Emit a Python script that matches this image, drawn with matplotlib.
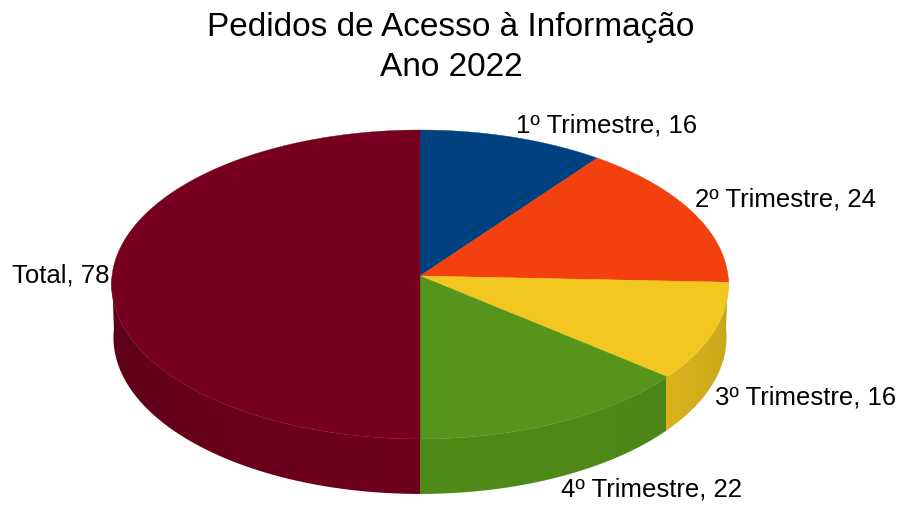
import numpy as np
import matplotlib
matplotlib.use("Agg")
import matplotlib.pyplot as plt
from matplotlib.colors import to_rgb
from matplotlib.patches import Polygon

plt.rcParams['font.family'] = ['Liberation Sans', 'DejaVu Sans']

# data
labels = ['1º Trimestre', '2º Trimestre', '3º Trimestre', '4º Trimestre', 'Total']
values = [16, 24, 16, 22, 78]
colors = ['#00427f', '#f2400e', '#f2c820', '#55951b', '#770020']
title_lines = ['Pedidos de Acesso à Informação', 'Ano 2022']

# perspective set-up (pixel units on screen)
ox, oy = 420, 276          # projected pie centre
elev = np.radians(30)
R = 0.0634                 # radius relative to camera distance
focal = 4858.0
height = 0.2 * R


def proj(phi, z=0.0):
    X = R * np.cos(phi)
    Y = R * np.sin(phi)
    yc = Y * np.sin(elev) + z * np.cos(elev)
    zc = 1.0 + Y * np.cos(elev) - z * np.sin(elev)
    return ox + focal * X / zc, oy - focal * yc / zc


def shade(phi):
    return 0.78 + 0.15 * np.cos(phi + np.radians(80))


fig = plt.figure(figsize=(9.02, 5.09), dpi=100)
ax = fig.add_axes([0, 0, 1, 1])

total = sum(values)
fracs = np.array(values) / total
starts = np.pi / 2 - 2 * np.pi * np.concatenate([[0], np.cumsum(fracs)[:-1]])
ends = starts - 2 * np.pi * fracs


def slice_at(phi):
    # which slice holds angle phi (in (-pi, 0])
    for i, (a0, a1) in enumerate(zip(starts, ends)):
        for k in (0, -2 * np.pi):
            if a1 - k <= phi <= a0 - k:
                return i
    return len(values) - 1


# side face: one shaded strip image clipped to the front rim
phis = np.linspace(-np.pi, 0, 2000)
tx, ty = proj(phis, 0)
bx, by = proj(phis, -height)
side = Polygon(np.c_[np.r_[tx, bx[::-1]], np.r_[ty, by[::-1]]], closed=True,
               fc='none', ec='none')
ax.add_patch(side)

x0, x1 = int(np.floor(tx.min())) - 1, int(np.ceil(tx.max())) + 1
cols = np.arange(x0, x1) + 0.5
mx = 0.5 * (tx + bx)
img = np.zeros((1, len(cols), 3))
for j, xv in enumerate(cols):
    p = np.interp(xv, mx, phis)
    img[0, j] = np.clip(np.array(to_rgb(colors[slice_at(p)])) * shade(p), 0, 1)
im = ax.imshow(img, extent=(x0, x1, by.max() + 2, ty.min() - 2),
               aspect='auto', interpolation='nearest')
im.set_clip_path(side)

# top face
for a0, a1, col in zip(starts, ends, colors):
    th = np.linspace(a0, a1, 300)
    xs, ys = proj(th, 0)
    ax.fill(np.r_[ox, xs], np.r_[oy, ys], color=col, lw=0.3, ec=col)

# labels
for lab, v, a0, a1 in zip(labels, values, starts, ends):
    m = 0.5 * (a0 + a1)
    c, s = np.cos(m), np.sin(m)
    front = s < -0.05
    x, y = proj(m, -height if front else 0)
    ha = 'left' if c > 0.05 else ('right' if c < -0.05 else 'center')
    va = 'bottom' if s > 0.05 else ('top' if front else 'center')
    x += 3 * np.sign(c)
    ax.text(x, y, f'{lab}, {v}', fontsize=18.5, ha=ha, va=va)

ax.text(451, 36, title_lines[0], fontsize=24, ha='center', va='baseline')
ax.text(451, 76, title_lines[1], fontsize=24, ha='center', va='baseline')

ax.set_xlim(0, 902)
ax.set_ylim(509, 0)
ax.axis('off')

fig.savefig('out.png', dpi=100)
